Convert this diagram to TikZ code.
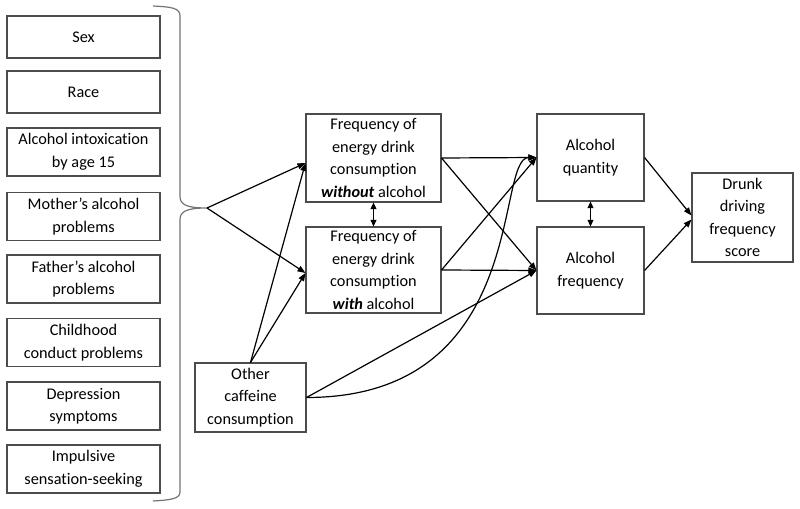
\documentclass[tikz,border=0pt]{standalone}
\usepackage{fontspec}
\setmainfont{Carlito}[Ligatures=NoCommon]
\usetikzlibrary{arrows.meta}
\begin{document}
\begin{tikzpicture}[x=0.75pt,y=-0.75pt,
  box/.style={draw=black!70,line width=0.8pt,rectangle,inner sep=0pt,align=center,
    font=\fontsize{12.2pt}{16.9pt}\selectfont},
  arr/.style={draw=black,line width=0.9pt,-{Triangle[length=6pt,width=4.5pt]}},
  darr/.style={draw=black,line width=0.9pt,{Triangle[length=5pt,width=4.5pt]}-{Triangle[length=5pt,width=4.5pt]}},
  brace/.style={draw=black!55,line width=0.9pt}]
\useasboundingbox (0,0) rectangle (800,509);
% left boxes
\node[box,minimum width=153*0.75pt,minimum height=42*0.75pt] (sex) at (83.5,37) {Sex};
\node[box,minimum width=153*0.75pt,minimum height=42*0.75pt] (race) at (83.5,92) {Race};
\node[box,minimum width=153*0.75pt,minimum height=48*0.75pt] (intox) at (83.5,152) {Alcohol intoxication\\by age 15};
\node[box,minimum width=153*0.75pt,minimum height=48*0.75pt] (mother) at (83.5,216.5) {Mother’s alcohol\\problems};
\node[box,minimum width=153*0.75pt,minimum height=48*0.75pt] (father) at (83.5,279) {Father’s alcohol\\problems};
\node[box,minimum width=153*0.75pt,minimum height=48*0.75pt] (child) at (83.5,342.5) {Childhood\\conduct problems};
\node[box,minimum width=153*0.75pt,minimum height=48*0.75pt] (dep) at (83.5,406) {Depression\\symptoms};
\node[box,minimum width=153*0.75pt,minimum height=48*0.75pt] (imp) at (83.5,469) {Impulsive\\sensation-seeking};
% brace
\coordinate (tip) at (207,208);
\draw[brace] (153,6) .. controls (172,7) and (180,8) .. (180,16) -- (180,196)
  .. controls (180,204) and (185,208) .. (tip)
  .. controls (185,208) and (180,212) .. (180,220) -- (180,492)
  .. controls (180,499) and (170,500) .. (153,501);
% middle boxes
\node[box,minimum width=135*0.75pt,minimum height=88*0.75pt] (fwo) at (373.5,158) {Frequency of\\energy drink\\consumption\\\textbf{\textit{without}} alcohol};
\node[box,minimum width=135*0.75pt,minimum height=86*0.75pt] (fw) at (373.5,270) {Frequency of\\energy drink\\consumption\\\textbf{\textit{with}} alcohol};
\node[box,minimum width=111*0.75pt,minimum height=69*0.75pt] (oc) at (250.5,397.5) {Other\\caffeine\\consumption};
\node[box,minimum width=107*0.75pt,minimum height=87*0.75pt] (aq) at (590.5,157.5) {Alcohol\\quantity};
\node[box,minimum width=107*0.75pt,minimum height=87*0.75pt] (af) at (590.5,270.5) {Alcohol\\frequency};
\node[box,minimum width=101*0.75pt,minimum height=89*0.75pt] (dd) at (742.5,217.5) {Drunk\\driving\\frequency\\score};
% arrows from covariates
\draw[arr] (tip) -- ([yshift=-3.75pt]fwo.west);
\draw[arr] (tip) -- ([yshift=-2.25pt]fw.west);
\draw[arr] (oc.north) -- ([yshift=-3.75pt]fwo.west);
\draw[arr] (oc.north) -- ([yshift=-2.25pt]fw.west);
\draw[darr] (fwo.south) -- (fw.north);
% to alcohol outcomes
\draw[arr] (fwo.east) -- (aq.west);
\draw[arr] (fwo.east) -- (af.west);
\draw[arr] (fw.east) -- (aq.west);
\draw[arr] (fw.east) -- (af.west);
\draw[arr] (oc.east) -- (af.west);
\draw[arr] (oc.east) .. controls +(224,0) and +(-42,0) .. (aq.west);
\draw[darr] (aq.south) -- (af.north);
% to drunk driving
\draw[arr] (aq.east) -- ([yshift=1.5pt]dd.west);
\draw[arr] (af.east) -- ([yshift=-1.5pt]dd.west);
\end{tikzpicture}
\end{document}
